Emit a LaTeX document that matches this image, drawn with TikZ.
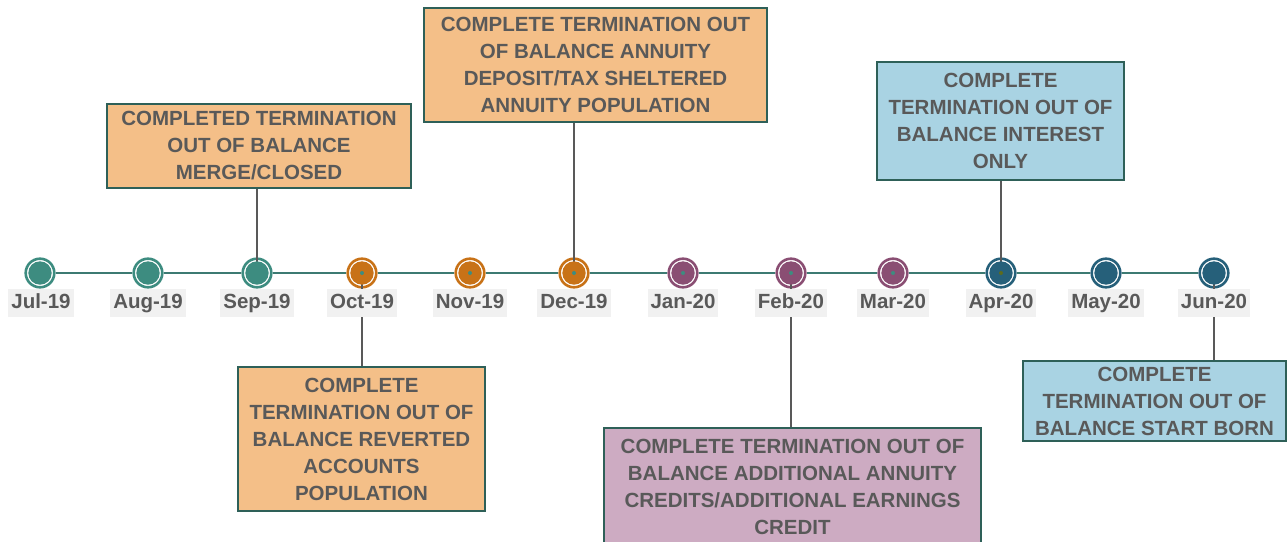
\documentclass[tikz,border=0pt]{standalone}
\usepackage{fontspec}
\setmainfont{Liberation Sans}
\definecolor{tl}{HTML}{3C7A72}
\definecolor{cteal}{HTML}{3D8C80}
\definecolor{corange}{HTML}{C87217}
\definecolor{cpurple}{HTML}{8A4E73}
\definecolor{cblue}{HTML}{26607A}
\definecolor{bord}{HTML}{2E6058}
\definecolor{forange}{HTML}{F4BF88}
\definecolor{fblue}{HTML}{A9D3E3}
\definecolor{fpurple}{HTML}{CDABC2}
\definecolor{txt}{HTML}{595959}
\definecolor{lbg}{HTML}{F1F1F1}
\definecolor{dotolive}{HTML}{5C6B1E}
\begin{document}
\begin{tikzpicture}[x=1pt,y=-1pt,
  ring/.style={circle,draw=#1,line width=2.6pt,fill=white,minimum size=28.6pt,inner sep=0pt},
  disc/.style={circle,fill=#1,minimum size=23.4pt,inner sep=0pt},
  cdot/.style={circle,fill=#1,minimum size=4pt,inner sep=0pt},
  datelbl/.style={fill=lbg,text=txt,font=\fontsize{20.5}{24}\selectfont\bfseries,inner xsep=3pt,inner ysep=0pt,text height=15.5pt,text depth=5pt,minimum height=28pt},
  callout/.style={draw=bord,line width=1.6pt,fill=#1,text=txt,align=center,font=\fontsize{20.5}{27}\selectfont\bfseries,inner sep=0pt},
  conn/.style={draw=txt,line width=1.5pt}]
\useasboundingbox (0,0) rectangle (1288,541);
% rings
\node[ring=cteal] (r1) at (40,273) {};
\node[ring=cteal] (r2) at (148,273) {};
\node[ring=cteal] (r3) at (257,273) {};
\node[ring=corange] (r4) at (362,273) {};
\node[ring=corange] (r5) at (470,273) {};
\node[ring=corange] (r6) at (574,273) {};
\node[ring=cpurple] (r7) at (683,273) {};
\node[ring=cpurple] (r8) at (791,273) {};
\node[ring=cpurple] (r9) at (893,273) {};
\node[ring=cblue] (r10) at (1001,273) {};
\node[ring=cblue] (r11) at (1106,273) {};
\node[ring=cblue] (r12) at (1214,273) {};
\draw[tl,line width=2pt] (r1.east) -- (r2.west) (r2.east) -- (r3.west) (r3.east) -- (r4.west)
  (r4.east) -- (r5.west) (r5.east) -- (r6.west) (r6.east) -- (r7.west) (r7.east) -- (r8.west)
  (r8.east) -- (r9.west) (r9.east) -- (r10.west) (r10.east) -- (r11.west) (r11.east) -- (r12.west);
% callouts
\node[callout=forange,minimum width=304pt,minimum height=84pt] (b1) at (259,146)
  {COMPLETED TERMINATION\\OUT OF BALANCE\\MERGE/CLOSED};
\node[callout=forange,minimum width=343pt,minimum height=114pt] (b2) at (595.5,65)
  {COMPLETE TERMINATION OUT\\OF BALANCE ANNUITY\\DEPOSIT/TAX SHELTERED\\ANNUITY POPULATION};
\node[callout=fblue,minimum width=247pt,minimum height=118pt] (b3) at (1000.5,121)
  {COMPLETE\\TERMINATION OUT OF\\BALANCE INTEREST\\ONLY};
\node[callout=forange,minimum width=247pt,minimum height=144pt] (b4) at (361.5,439)
  {COMPLETE\\TERMINATION OUT OF\\BALANCE REVERTED\\ACCOUNTS\\POPULATION};
\node[callout=fpurple,minimum width=377pt,minimum height=117pt] (b5) at (792.5,486.5)
  {COMPLETE TERMINATION OUT OF\\BALANCE ADDITIONAL ANNUITY\\CREDITS/ADDITIONAL EARNINGS\\CREDIT};
\node[callout=fblue,minimum width=263pt,minimum height=80pt] (b6) at (1154.5,401)
  {COMPLETE\\TERMINATION OUT OF\\BALANCE START BORN};
% connectors
\draw[conn] (b1.south -| r3) -- (r3.center);
\draw[conn] (b2.south -| r6) -- (r6.center);
\draw[conn] (b3.south -| r10) -- (r10.center);
\draw[conn] (b4.north -| r4) -- (r4.center);
\draw[conn] (b5.north -| r8) -- (r8.center);
\draw[conn] (b6.north -| r12) -- (r12.center);
% inner discs
\node[disc=cteal] at (r1) {};
\node[disc=cteal] at (r2) {};
\node[disc=cteal] at (r3) {};
\node[disc=corange] at (r4) {};
\node[disc=corange] at (r5) {};
\node[disc=corange] at (r6) {};
\node[disc=cpurple] at (r7) {};
\node[disc=cpurple] at (r8) {};
\node[disc=cpurple] at (r9) {};
\node[disc=cblue] at (r10) {};
\node[disc=cblue] at (r11) {};
\node[disc=cblue] at (r12) {};
\foreach \i in {4,...,9} {\node[cdot=cteal] at (r\i) {};}
\node[cdot=dotolive] at (r10) {};
% date labels
\node[datelbl] (d1) at (41,303) {Jul-19};
\node[datelbl] (d2) at (148,303) {Aug-19};
\node[datelbl] (d3) at (257,303) {Sep-19};
\node[datelbl] (d4) at (362,303) {Oct-19};
\node[datelbl] (d5) at (470,303) {Nov-19};
\node[datelbl] (d6) at (574,303) {Dec-19};
\node[datelbl] (d7) at (683,303) {Jan-20};
\node[datelbl] (d8) at (791,303) {Feb-20};
\node[datelbl] (d9) at (893,303) {Mar-20};
\node[datelbl] (d10) at (1001,303) {Apr-20};
\node[datelbl] (d11) at (1106,303) {May-20};
\node[datelbl] (d12) at (1214,303) {Jun-20};
\end{tikzpicture}
\end{document}
